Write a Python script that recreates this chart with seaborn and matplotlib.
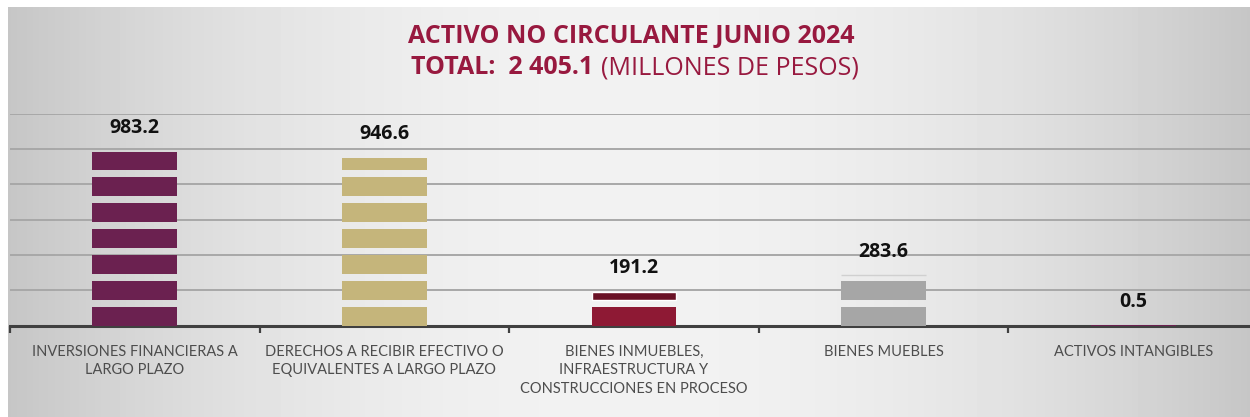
import numpy as np
import pandas as pd
import seaborn as sns
import matplotlib.pyplot as plt
from matplotlib.path import Path

# Datos del grafico
categorias = [
    "INVERSIONES FINANCIERAS A\nLARGO PLAZO",
    "DERECHOS A RECIBIR EFECTIVO O\nEQUIVALENTES A LARGO PLAZO",
    "BIENES INMUEBLES,\nINFRAESTRUCTURA Y\nCONSTRUCCIONES EN PROCESO",
    "BIENES MUEBLES",
    "ACTIVOS INTANGIBLES",
]
valores = [983.2, 946.6, 191.2, 283.6, 0.5]
colores = ["#6b2150", "#c5b57b", "#8e1934", "#a6a6a6", "#6b2150"]
titulo = "ACTIVO NO CIRCULANTE JUNIO 2024"
total = "TOTAL:  2 405.1"
unidades = "(MILLONES DE PESOS)"

df = pd.DataFrame({"Rubro": categorias, "Monto": valores})

sns.set_theme(style="white")
plt.rcParams['font.family'] = ['Open Sans', 'DejaVu Sans']

W, H = 1250, 417
fig = plt.figure(figsize=(12.5, 4.17), dpi=100)
fig.patch.set_facecolor("white")

# fondo degradado gris
bg = fig.add_axes([8 / W, 0, 1 - 8 / W, 1 - 7 / H], zorder=-5)
xs = np.linspace(-1, 1, 400)
prof = 242 - 44 * xs ** 2
img = np.tile(prof, (50, 1)) / 255.0
bg.imshow(img, cmap="gray", vmin=0, vmax=1, aspect="auto", extent=[0, 1, 0, 1])
bg.axis("off")

ax = fig.add_axes([10 / W, (H - 325.5) / H, 1248 / W, 212 / H])
ax.set_facecolor("none")

sns.barplot(data=df, x="Rubro", y="Monto", hue="Rubro", palette=colores,
            legend=False, saturation=1, width=0.34, ax=ax, zorder=3)

ax.set_ylim(0, 1200)
ax.set_yticks(range(200, 1201, 200))
ax.yaxis.grid(True, color="#a8a8a8", lw=1.4, zorder=0)
ax.set_axisbelow(True)
ax.tick_params(axis="y", left=False, labelleft=False)

# franjas horizontales en las barras (recorte de cada barra)
paso, hueco, inicio = 147, 40, 107
for p in ax.patches:
    x0, w, h = p.get_x(), p.get_width(), p.get_height()
    segs = []
    lo, k = 0.0, 0
    while lo < h:
        hi = min(inicio + k * paso, h)
        segs.append((lo, hi))
        lo = inicio + k * paso + hueco
        k += 1
    verts, codes = [], []
    for lo, hi in segs:
        verts += [(x0, lo), (x0 + w, lo), (x0 + w, hi), (x0, hi), (x0, lo)]
        codes += [Path.MOVETO, Path.LINETO, Path.LINETO, Path.LINETO, Path.CLOSEPOLY]
    p.set_clip_path(Path(verts, codes), ax.transData)
    p.set_edgecolor("none")

# tapa mas oscura en la barra roja y borde tenue en la gris
p_rojo, p_gris = ax.patches[2], ax.patches[3]
ax.bar(p_rojo.get_x() + p_rojo.get_width() / 2, p_rojo.get_height() - inicio - hueco,
       bottom=inicio + hueco, width=p_rojo.get_width(), color="#6a1226", zorder=4)
ax.hlines(p_gris.get_height(), p_gris.get_x(), p_gris.get_x() + p_gris.get_width(),
          color="#d0d0d0", lw=1, zorder=4)

for c in ax.containers[:5]:
    ax.bar_label(c, fmt="%.1f", padding=10, fontsize=14, fontweight="bold",
                 color="#111111")

# ejes
for s in ["top", "right", "left"]:
    ax.spines[s].set_visible(False)
ax.spines["bottom"].set_color("#404040")
ax.spines["bottom"].set_linewidth(2.2)
ax.set_xlim(-0.5, 4.5)
ax.set_xticks(np.arange(-0.5, 5, 1), minor=True)
ax.tick_params(axis="x", which="minor", bottom=True, length=5, width=1.6,
               color="#404040", direction="out")
ax.tick_params(axis="x", which="major", bottom=False, pad=8)
ax.set_xticks(range(len(categorias)))
ax.set_xticklabels(categorias, family=['Lato', 'DejaVu Sans'],
                   fontsize=10.5, color="#4d4d4d", linespacing=1.4, va="top")
ax.set(xlabel=None, ylabel=None)

# titulo
rojo = "#98193f"
fig.text(631 / W, 1 - 36 / H, titulo, ha="center", va="center", fontsize=18,
         fontweight="bold", color=rojo)
fig.text(593 / W, 1 - 68 / H, total, ha="right", va="center", fontsize=18,
         fontweight="bold", color=rojo)
fig.text(601 / W, 1 - 68 / H, unidades, ha="left", va="center", fontsize=18,
         color=rojo)

plt.savefig("out.png", dpi=100, facecolor=fig.get_facecolor())
